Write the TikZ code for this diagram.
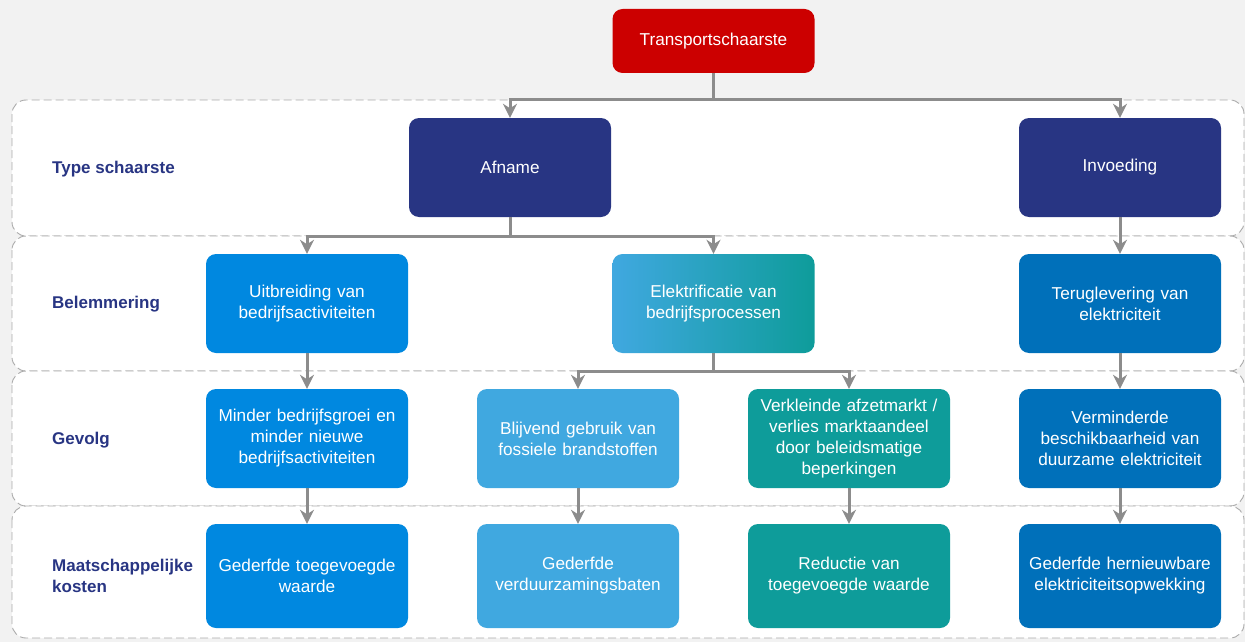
\documentclass[tikz,border=0pt]{standalone}
\usepackage{fontspec}
\setmainfont{Liberation Sans}
\usetikzlibrary{arrows.meta,calc}
\definecolor{bgc}{HTML}{F2F2F2}
\definecolor{bandline}{HTML}{ABABAB}
\definecolor{navy}{HTML}{283583}
\definecolor{redc}{HTML}{CC0000}
\definecolor{brightblue}{HTML}{0088E0}
\definecolor{lightblue}{HTML}{40A8E0}
\definecolor{tealc}{HTML}{0E9C9A}
\definecolor{darkblue}{HTML}{0070BA}
\definecolor{conncol}{HTML}{8C8C8C}
\tikzset{
  box/.style={rounded corners=10pt, minimum width=202pt, minimum height=99pt, inner sep=0pt,
    text width=196pt, align=center, text=white, font=\fontsize{17.2}{21}\selectfont},
  band/.style={draw=bandline, dash pattern=on 8pt off 4pt, fill=white, rounded corners=14pt, line width=0.9pt},
  rowlabel/.style={anchor=west, text=navy, align=left, font=\bfseries\fontsize{17}{21}\selectfont, inner sep=0pt},
  conn/.style={draw=conncol, line width=3pt, -{Stealth[length=14pt,width=14pt,inset=4.5pt]}},
  connplain/.style={draw=conncol, line width=3pt}
}
\begin{document}
\begin{tikzpicture}[x=1pt,y=-1pt]
\useasboundingbox (0,0) rectangle (1245,642);
\fill[bgc] (0,0) rectangle (1245,642);
\begin{scope}
\clip (0,0) rectangle (1245,642);
\path[band] (12,100) rectangle (1244,236);
\path[band] (12,236) rectangle (1244,371);
\path[band] (12,371) rectangle (1244,506);
\path[band] (12,506) rectangle (1244,638);
\end{scope}

% row labels
\node[rowlabel] (l1) at (52,169) {Type schaarste};
\node[rowlabel] (l2) at (52,304) {Belemmering};
\node[rowlabel] (l3) at (52,440) {Gevolg};
\node[rowlabel] (l4) at (52,576) {Maatschappelijke\\kosten};

% nodes
\node[box, fill=redc, minimum height=64pt] (title) at (713.5,41) {Transportschaarste};
\node[box, fill=navy] (afname) at (510,167.5) {Afname};
\node[box, fill=navy] (invoeding) at (1120,167.5) {Invoeding};

\node[box, fill=brightblue] (uitbr) at (307,303.5) {Uitbreiding van\\bedrijfsactiviteiten};
\node[box, left color=lightblue, right color=tealc] (elek) at (713.5,303.5) {Elektrificatie van\\bedrijfsprocessen};
\node[box, fill=darkblue] (terug) at (1120,303.5) {Teruglevering van\\elektriciteit};

\node[box, fill=brightblue] (minder) at (307,438.5) {Minder bedrijfsgroei en\\minder nieuwe\\bedrijfsactiviteiten};
\node[box, fill=lightblue] (blijvend) at (578,438.5) {Blijvend gebruik van\\fossiele brandstoffen};
\node[box, fill=tealc] (verkl) at (849,438.5) {Verkleinde afzetmarkt /\\verlies marktaandeel\\door beleidsmatige\\beperkingen};
\node[box, fill=darkblue] (vermind) at (1120,438.5) {Verminderde\\beschikbaarheid van\\duurzame elektriciteit};

\node[box, fill=brightblue, minimum height=104pt] (k1) at (307,576) {Gederfde toegevoegde\\waarde};
\node[box, fill=lightblue, minimum height=104pt] (k2) at (578,576) {Gederfde\\verduurzamingsbaten};
\node[box, fill=tealc, minimum height=104pt] (k3) at (849,576) {Reductie van\\toegevoegde waarde};
\node[box, fill=darkblue, minimum height=104pt] (k4) at (1120,576) {Gederfde hernieuwbare\\elektriciteitsopwekking};

% junctions
\coordinate (j1) at (713.5,99);
\coordinate (j2) at (510,236);
\coordinate (j3) at (713.5,371);

% connectors
\draw[connplain] (title.south) -- (j1);
\draw[conn] (j1) -| (afname.north);
\draw[conn] (j1) -| (invoeding.north);

\draw[connplain] (afname.south) -- (j2);
\draw[conn] (j2) -| (uitbr.north);
\draw[conn] (j2) -| (elek.north);

\draw[conn] (invoeding.south) -- (terug.north);

\draw[connplain] (elek.south) -- (j3);
\draw[conn] (j3) -| (blijvend.north);
\draw[conn] (j3) -| (verkl.north);

\draw[conn] (uitbr.south) -- (minder.north);
\draw[conn] (terug.south) -- (vermind.north);

\draw[conn] (minder.south) -- (k1.north);
\draw[conn] (blijvend.south) -- (k2.north);
\draw[conn] (verkl.south) -- (k3.north);
\draw[conn] (vermind.south) -- (k4.north);
\end{tikzpicture}
\end{document}
